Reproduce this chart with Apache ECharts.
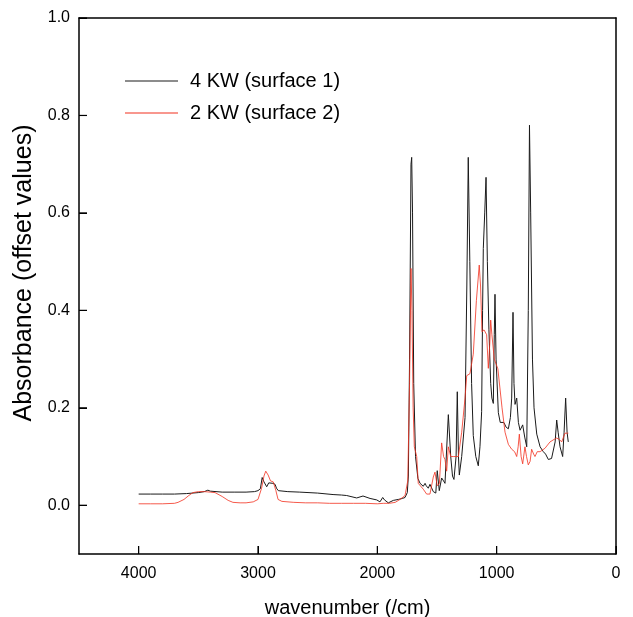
<!DOCTYPE html>
<html>
<head>
<meta charset="utf-8">
<script src="https://cdn.jsdelivr.net/npm/echarts@6/dist/echarts.min.js"></script>
<style>
  html, body { margin: 0; padding: 0; background: #fff; }
  #chart { width: 633px; height: 617px; }
</style>
</head>
<body>
<div id="chart"></div>
<script>
// 图例名称
const seriesNames = ['4 KW (surface 1)', '2 KW (surface 2)']
// 刻度
const xTicks = [4000, 3000, 2000, 1000, 0]
const yTicks = [0.0, 0.2, 0.4, 0.6, 0.8, 1.0]

// 4 KW 曲线 (波数 /cm)
const blackWn = [4000, 3900, 3800, 3700, 3600, 3500, 3450, 3420, 3400, 3300, 3200, 3100, 3030, 3000, 2980, 2965, 2950, 2927, 2910, 2894, 2875, 2857, 2845, 2830,
  2750, 2650, 2500, 2371, 2300, 2257, 2173, 2120, 2061, 2005, 1978, 1955, 1940, 1908, 1866, 1824, 1790, 1768, 1749, 1740, 1730, 1718, 1712, 1705, 1695, 1680,
  1660, 1642, 1615, 1600, 1590, 1573, 1559, 1531, 1510, 1498, 1481, 1461, 1445, 1433, 1405, 1385, 1370, 1358, 1340, 1330, 1320, 1313, 1293, 1265, 1250, 1238,
  1225, 1210, 1196, 1175, 1154, 1140, 1126, 1118, 1112, 1100, 1089, 1078, 1065, 1050, 1040, 1028, 1020, 1014, 1005, 986, 970, 958, 940, 920, 902, 885, 874,
  863, 855, 846, 832, 818, 804, 782, 765, 748, 735, 725, 715, 700, 687, 664, 636, 609, 590, 567, 540, 525, 510, 497, 485, 469, 447, 435, 422, 410, 400]
const blackAbs = [0.023, 0.023, 0.023, 0.023, 0.024, 0.026, 0.028, 0.031, 0.029, 0.027, 0.027, 0.027, 0.028, 0.030, 0.034, 0.057, 0.048, 0.038, 0.046, 0.048, 0.045, 0.043, 0.035, 0.030,
  0.028, 0.027, 0.025, 0.022, 0.021, 0.020, 0.015, 0.019, 0.014, 0.011, 0.007, 0.016, 0.011, 0.005, 0.010, 0.012, 0.014, 0.016, 0.026, 0.06, 0.30, 0.70, 0.714, 0.60, 0.25, 0.10,
  0.055, 0.045, 0.039, 0.045, 0.040, 0.035, 0.043, 0.028, 0.025, 0.071, 0.030, 0.056, 0.050, 0.045, 0.186, 0.10, 0.06, 0.053, 0.10, 0.233, 0.10, 0.062, 0.10, 0.18, 0.45, 0.714,
  0.50, 0.25, 0.143, 0.10, 0.081, 0.12, 0.192, 0.40, 0.527, 0.60, 0.673, 0.50, 0.36, 0.25, 0.22, 0.209, 0.35, 0.433, 0.30, 0.19, 0.17, 0.166, 0.17, 0.16, 0.157, 0.18, 0.22,
  0.396, 0.25, 0.207, 0.22, 0.17, 0.154, 0.165, 0.14, 0.12, 0.40, 0.78, 0.60, 0.30, 0.20, 0.146, 0.12, 0.11, 0.105, 0.094, 0.096, 0.097, 0.13, 0.175, 0.15, 0.12, 0.10, 0.15, 0.22, 0.15, 0.13]

// 2 KW 曲线
const redWn = [4000, 3900, 3800, 3700, 3670, 3620, 3580, 3545, 3500, 3450, 3400, 3360, 3300, 3250, 3210, 3150, 3100, 3040, 3000, 2970, 2950, 2935, 2915, 2895, 2872, 2850, 2832,
  2800, 2700, 2600, 2500, 2400, 2300, 2200, 2100, 2000, 1950, 1900, 1850, 1810, 1768, 1745, 1730, 1718, 1710, 1700, 1690, 1670, 1657, 1615, 1587, 1559, 1531, 1517, 1498,
  1480, 1461, 1445, 1433, 1419, 1405, 1385, 1363, 1321, 1293, 1265, 1251, 1224, 1196, 1170, 1146, 1135, 1123, 1106, 1084, 1070, 1058, 1050, 1040, 1020, 990, 978, 955,
  930, 902, 874, 850, 832, 820, 810, 795, 782, 763, 750, 735, 720, 707, 690, 679, 660, 636, 595, 553, 520, 497, 475, 455, 440, 427, 400]
const redAbs = [0.003, 0.003, 0.003, 0.004, 0.006, 0.012, 0.020, 0.026, 0.028, 0.028, 0.027, 0.026, 0.018, 0.010, 0.006, 0.005, 0.005, 0.007, 0.012, 0.035, 0.060, 0.070, 0.062, 0.050, 0.048, 0.030, 0.012,
  0.008, 0.006, 0.005, 0.005, 0.004, 0.004, 0.004, 0.004, 0.003, 0.004, 0.004, 0.006, 0.012, 0.020, 0.05, 0.25, 0.486, 0.40, 0.20, 0.12, 0.10, 0.045, 0.033, 0.023, 0.023, 0.058, 0.068, 0.040,
  0.045, 0.128, 0.10, 0.094, 0.070, 0.12, 0.10, 0.10, 0.10, 0.15, 0.22, 0.266, 0.27, 0.31, 0.42, 0.493, 0.45, 0.356, 0.36, 0.35, 0.281, 0.33, 0.38, 0.35, 0.30, 0.28, 0.28, 0.20,
  0.15, 0.125, 0.115, 0.11, 0.10, 0.12, 0.146, 0.10, 0.085, 0.12, 0.10, 0.083, 0.09, 0.115, 0.105, 0.10, 0.11, 0.11, 0.117, 0.13, 0.135, 0.138, 0.135, 0.13, 0.14, 0.148, 0.148]

const pairs = (xs, ys) => xs.map((x, i) => [x, ys[i]])

const font = '"Liberation Sans", Arial, sans-serif'
const xMin = 0, xMax = 4500, yMin = -0.1, yMax = 1.0
const tickLen = 8
let mycharts = echarts.init(document.getElementById('chart'))
mycharts.setOption({
  animation: false,
  //布局
  grid: {
    left: 79,
    right: 17,
    top: 18,
    bottom: 63,
    outerBoundsMode: 'none',
  },
  //图例: 细线图标, 无圆点
  legend: {
    orient: 'vertical',
    left: 120,
    top: 66,
    icon: 'rect',
    itemWidth: 53,
    itemHeight: 1.2,
    itemGap: 12,
    textStyle: { fontSize: 20, color: '#000', fontFamily: font, padding: [0, 0, 0, 7] },
    data: seriesNames,
  },
  xAxis: [
    {
      type: 'value',
      inverse: true,
      min: xMin,
      max: xMax,
      name: 'wavenumber (/cm)',
      nameLocation: 'middle',
      nameGap: 44,
      nameTextStyle: { fontSize: 20, color: '#000', fontFamily: font },
      splitLine: { show: false },
      axisLine: { show: true, onZero: false, lineStyle: { color: '#000', width: 1.5 } },
      axisTick: { show: true, inside: true, length: tickLen, customValues: xTicks },
      axisLabel: { customValues: xTicks, fontSize: 16, color: '#000', margin: 12, fontFamily: font, formatter: v => String(v) },
    },
    //上边框
    {
      type: 'value', position: 'top', inverse: true, min: xMin, max: xMax,
      axisLine: { show: true, onZero: false, lineStyle: { color: '#000', width: 1.5 } },
      axisTick: { show: false }, axisLabel: { show: false }, splitLine: { show: false },
    },
  ],
  yAxis: [
    {
      type: 'value',
      min: yMin,
      max: yMax,
      name: 'Absorbance (offset values)',
      nameLocation: 'middle',
      nameGap: 28,
      nameTextStyle: { fontSize: 25, color: '#000', fontFamily: font, padding: [0, 0, 0, 26] },
      splitLine: { show: false },
      axisLine: { show: true, onZero: false, lineStyle: { color: '#000', width: 1.5 } },
      axisTick: { show: true, inside: true, length: tickLen, customValues: yTicks },
      axisLabel: { customValues: yTicks, fontSize: 16, color: '#000', margin: 9, fontFamily: font, formatter: v => v.toFixed(1) },
    },
    //右边框
    {
      type: 'value', position: 'right', min: yMin, max: yMax,
      axisLine: { show: true, onZero: false, lineStyle: { color: '#000', width: 1.5 } },
      axisTick: { show: false }, axisLabel: { show: false }, splitLine: { show: false },
    },
  ],
  series: [
    {
      name: seriesNames[0],
      type: 'line',
      data: pairs(blackWn, blackAbs),
      symbol: 'none',
      lineStyle: { color: '#1a1a1a', width: 1 },
      itemStyle: { color: '#1a1a1a' },
    },
    {
      name: seriesNames[1],
      type: 'line',
      data: pairs(redWn, redAbs),
      symbol: 'none',
      lineStyle: { color: '#f2301e', width: 0.8 },
      itemStyle: { color: '#f2301e' },
    },
  ],
})

//朝内的刻度线: 位置由坐标轴换算得到
const bottomY = mycharts.convertToPixel({ yAxisIndex: 0 }, yMin)
const leftX = mycharts.convertToPixel({ xAxisIndex: 0 }, xMax)
const tickStyle = { stroke: '#000', lineWidth: 1.2 }
const tickMarks = []
xTicks.forEach(v => {
  const px = mycharts.convertToPixel({ xAxisIndex: 0 }, v)
  tickMarks.push({ type: 'line', z: 50, shape: { x1: px, y1: bottomY, x2: px, y2: bottomY - tickLen }, style: tickStyle })
})
yTicks.forEach(v => {
  const py = mycharts.convertToPixel({ yAxisIndex: 0 }, v)
  tickMarks.push({ type: 'line', z: 50, shape: { x1: leftX, y1: py, x2: leftX + tickLen, y2: py }, style: tickStyle })
})
mycharts.setOption({ graphic: tickMarks })
</script>
</body>
</html>
